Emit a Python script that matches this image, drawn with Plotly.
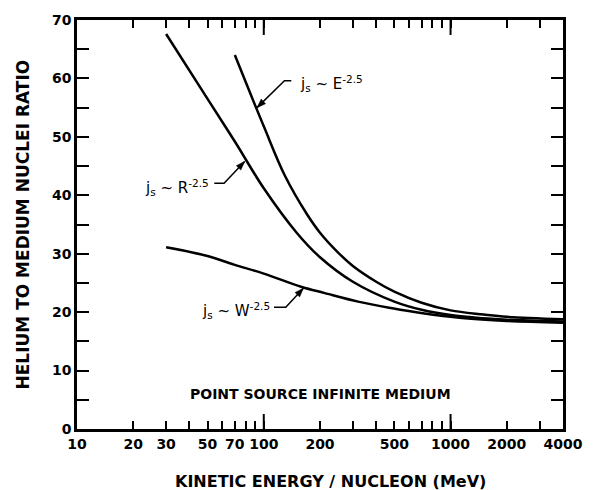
import numpy as np
import plotly.graph_objects as go

# ---- data ----
energy_E = [70, 100, 130, 170, 200, 250, 300, 400, 500, 700, 1000, 1500, 2000, 4000]
ratio_E = [64.0, 51.8, 43.3, 36.8, 33.6, 30.2, 27.9, 25.2, 23.5, 21.6, 20.3, 19.6, 19.2, 18.8]

energy_R = [30, 50, 70, 100, 150, 200, 300, 500, 700, 1000, 1500, 2000, 4000]
ratio_R = [67.6, 56.5, 49.2, 41.2, 33.6, 29.4, 25.2, 21.8, 20.4, 19.5, 18.95, 18.7, 18.4]

energy_W = [30, 50, 70, 100, 160, 210, 320, 480, 710, 1150, 2000, 4000]
ratio_W = [31.1, 29.6, 28.1, 26.6, 24.3, 23.3, 21.8, 20.7, 19.8, 19.0, 18.5, 18.2]

x_tick_vals = [10, 20, 30, 50, 70, 100, 200, 500, 1000, 2000, 4000]
x_tick_text = ["10", "20", "30", "50", "70", "100", "200", "500", "1000", "2000", "4000"]
x_minor_vals = [40, 60, 80, 90, 300, 400, 600, 700, 800, 900, 3000]
x_long_vals = [100, 1000]
y_tick_vals = [0, 10, 20, 30, 40, 50, 60, 70]

FONT = "DejaVu Sans"
X_MIN, X_MAX = 10, 4000
Y_MIN, Y_MAX = 0, 70
PW, PH = 496, 410  # plot area size in pixels

fig = go.Figure()
for xs, ys in [(energy_E, ratio_E), (energy_R, ratio_R), (energy_W, ratio_W)]:
    fig.add_trace(go.Scatter(
        x=xs, y=ys, mode="lines",
        line=dict(color="black", width=2.5, shape="spline", smoothing=1.0),
        showlegend=False, hoverinfo="skip"))

xr = [np.log10(X_MIN), np.log10(X_MAX)]
fig.update_layout(
    width=595, height=490,
    margin=dict(l=77, r=22, t=19, b=61),
    paper_bgcolor="white", plot_bgcolor="white",
    font=dict(family=FONT, color="black"),
    xaxis=dict(
        type="log", range=xr, tickmode="array", tickvals=x_tick_vals, ticktext=x_tick_text,
        ticks="inside", ticklen=8, tickwidth=2, tickcolor="black",
        showline=True, linecolor="black", linewidth=2.5, mirror="ticks",
        showgrid=False, zeroline=False,
        tickfont=dict(family=FONT, size=14, color="black", weight="bold"),
        minor=dict(tickmode="array", tickvals=x_minor_vals, ticks="inside", ticklen=8,
                   tickwidth=2, tickcolor="black", showgrid=False),
    ),
    yaxis=dict(
        range=[Y_MIN, Y_MAX], tickmode="array", tickvals=y_tick_vals,
        ticks="inside", ticklen=12, tickwidth=2, tickcolor="black",
        showline=True, linecolor="black", linewidth=2.5, mirror="ticks",
        showgrid=False, zeroline=False,
        tickfont=dict(family=FONT, size=14, color="black", weight="bold"),
        minor=dict(dtick=5, ticks="inside", ticklen=12, tickwidth=2, tickcolor="black",
                   showgrid=False),
    ),
)

annotations = []
shapes = []


def dom(E, y):
    return ((np.log10(E) - xr[0]) / (xr[1] - xr[0]), (y - Y_MIN) / (Y_MAX - Y_MIN))


# long decade ticks (bottom and top) at 100 and 1000
for v in x_long_vals:
    fx, _ = dom(v, Y_MIN)
    for y0, y1 in [(0, 15 / PH), (1, 1 - 15 / PH)]:
        shapes.append(dict(type="line", xref="x domain", yref="y domain",
                           x0=fx, x1=fx, y0=y0, y1=y1,
                           line=dict(color="black", width=2)))


def leader(tipE, tipY, dx, dy, hx, text, tx, ty, anchor):
    fx, fy = dom(tipE, tipY)
    ex, ey = fx + dx / PW, fy - dy / PH
    hx_, hy_ = ex + hx / PW, ey
    shapes.append(dict(type="path", xref="x domain", yref="y domain",
                       path=f"M {hx_},{hy_} L {ex},{ey} L {fx},{fy}",
                       line=dict(color="black", width=1.5)))
    # arrow head (pixel geometry, converted to domain fractions)
    L, W = 9.0, 3.2
    ux, uy = -dx, -dy
    n = np.hypot(ux, uy)
    ux, uy = ux / n, uy / n
    nx, ny = -uy, ux
    pts = [(0, 0), (-L * ux + W * nx, -L * uy + W * ny), (-L * ux - W * nx, -L * uy - W * ny)]
    p = " L ".join(f"{fx + ox / PW},{fy - oy / PH}" for ox, oy in pts)
    shapes.append(dict(type="path", xref="x domain", yref="y domain", path=f"M {p} Z",
                       fillcolor="black", line=dict(color="black", width=0.5)))
    annotations.append(dict(x=float(np.log10(tipE)), y=tipY, xref="x", yref="y", text=text,
                            showarrow=False, xanchor=anchor, yanchor="middle",
                            xshift=tx, yshift=ty,
                            font=dict(family=FONT, size=15, color="black")))


leader(92, 55.0, 28, -27, 7, "j<sub>s</sub> ~ E<sup>-2.5</sup>", 41, 24, "left")
leader(79, 45.8, -21, 22, -10, "j<sub>s</sub> ~ R<sup>-2.5</sup>", -34, -26, "right")
leader(163, 24.1, -18, 19, -12, "j<sub>s</sub> ~ W<sup>-2.5</sup>", -31, -22, "right")

annotations.append(dict(x=0.5, y=0.085, xref="paper", yref="paper", showarrow=False,
                        text="POINT SOURCE INFINITE MEDIUM", xanchor="center", yanchor="middle",
                        font=dict(family=FONT, size=14, color="black", weight="bold")))
annotations.append(dict(x=0.522, y=0, xref="paper", yref="paper", showarrow=False,
                        text="KINETIC ENERGY / NUCLEON (MeV)", xanchor="center", yanchor="middle",
                        yshift=-52, font=dict(family=FONT, size=16, color="black", weight="bold")))
annotations.append(dict(x=0, y=0.5, xref="paper", yref="paper", showarrow=False,
                        text="HELIUM TO MEDIUM NUCLEI RATIO", textangle=-90,
                        xanchor="center", yanchor="middle", xshift=-55,
                        font=dict(family=FONT, size=17, color="black", weight="bold")))

fig.update_layout(annotations=annotations, shapes=shapes)
fig.write_html("out.html")
